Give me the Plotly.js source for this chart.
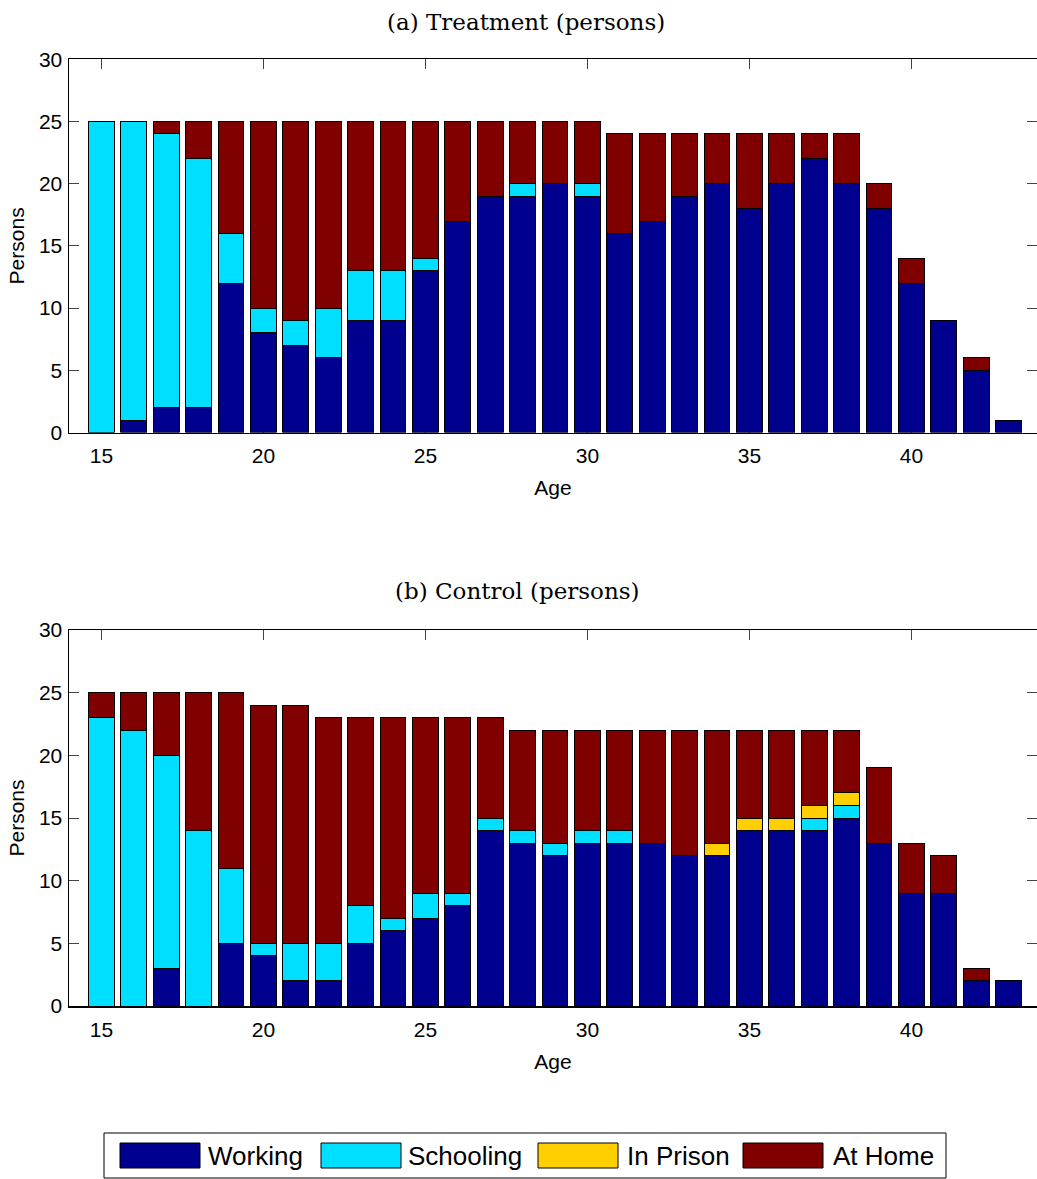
<!DOCTYPE html>
<html>
<head>
<meta charset="utf-8">
<script src="https://cdn.plot.ly/plotly-3.0.1.min.js"></script>
<style>html,body{margin:0;padding:0;background:#fff;}#chart{width:1037px;height:1179px;}</style>
</head>
<body>
<div id="chart"></div>
<script>
// ---- data ----
const ages = [15,16,17,18,19,20,21,22,23,24,25,26,27,28,29,30,31,32,33,34,35,36,37,38,39,40,41,42,43];
const xTickVals = [15,20,25,30,35,40];
const yTickVals = [0,5,10,15,20,25,30];

const seriesNames = ['Working','Schooling','In Prison','At Home'];

// (a) Treatment
const tWorking   = [0,1,2,2,12,8,7,6,9,9,13,17,19,19,20,19,16,17,19,20,18,20,22,20,18,12,9,5,1];
const tSchooling = [25,24,22,20,4,2,2,4,4,4,1,0,0,1,0,1,0,0,0,0,0,0,0,0,0,0,0,0,0];
const tPrison    = [0,0,0,0,0,0,0,0,0,0,0,0,0,0,0,0,0,0,0,0,0,0,0,0,0,0,0,0,0];
const tHome      = [0,0,1,3,9,15,16,15,12,12,11,8,6,5,5,5,8,7,5,4,6,4,2,4,2,2,0,1,0];

// (b) Control
const cWorking   = [0,0,3,0,5,4,2,2,5,6,7,8,14,13,12,13,13,13,12,12,14,14,14,15,13,9,9,2,2];
const cSchooling = [23,22,17,14,6,1,3,3,3,1,2,1,1,1,1,1,1,0,0,0,0,0,1,1,0,0,0,0,0];
const cPrison    = [0,0,0,0,0,0,0,0,0,0,0,0,0,0,0,0,0,0,0,1,1,1,1,1,0,0,0,0,0];
const cHome      = [2,3,5,11,14,19,19,18,15,16,14,14,8,8,9,8,8,9,10,9,7,7,6,5,6,4,3,1,0];

const panelTitles = ['(a) Treatment (persons)', '(b) Control (persons)'];
const xTitle = 'Age';
const yTitle = 'Persons';

// ---- styling ----
const colors = ['#00008F', '#00DFFF', '#FFCF00', '#800000'];
const W = 1037, H = 1179;
const px = v => v / W;
const py = v => 1 - v / H;
const sans = 'Liberation Sans, Arial, sans-serif';
const serif = 'DejaVu Serif, serif';

function mkTraces(vals, xa, ya) {
  return vals.map((v, i) => ({
    type: 'bar', x: ages, y: v, name: seriesNames[i], xaxis: xa, yaxis: ya,
    marker: {color: colors[i], line: {color: '#000', width: 1}},
    showlegend: false, hoverinfo: 'x+y+name'
  }));
}

const data = [
  ...mkTraces([tWorking, tSchooling, tPrison, tHome], 'x', 'y'),
  ...mkTraces([cWorking, cSchooling, cPrison, cHome], 'x2', 'y2')
];

function xAxis(dom, anchor) {
  return {
    domain: dom, anchor: anchor, range: [14, 14 + (W - 69) / 32.4],
    tickvals: xTickVals, ticks: 'inside', ticklen: 10, tickwidth: 1, tickcolor: '#444',
    showline: true, linecolor: '#000', linewidth: 1.5, mirror: 'ticks',
    showgrid: false, zeroline: false, layer: 'below traces',
    tickfont: {family: sans, size: 21, color: '#000'}, ticklabelstandoff: 4,
    title: {text: xTitle, font: {family: sans, size: 21, color: '#000'}, standoff: 14},
    automargin: false
  };
}
function yAxis(dom, anchor) {
  return {
    domain: dom, anchor: anchor, range: [0, 30],
    tickvals: yTickVals, ticks: 'inside', ticklen: 10, tickwidth: 1, tickcolor: '#444',
    showline: true, linecolor: '#000', linewidth: 1.5, mirror: 'ticks',
    showgrid: false, zeroline: false,
    tickfont: {family: sans, size: 21, color: '#000'}, ticklabelstandoff: 1,
    title: {text: yTitle, font: {family: sans, size: 21, color: '#000'}, standoff: 8},
    automargin: false
  };
}

const xDom = [69 / W, 1];
const layout = {
  width: W, height: H,
  margin: {l: 0, r: 0, t: 0, b: 0},
  paper_bgcolor: '#fff', plot_bgcolor: '#fff',
  barmode: 'stack', bargap: 0.2,
  showlegend: false,
  xaxis: xAxis(xDom, 'y'),
  yaxis: yAxis([py(432.5), py(59.3)], 'x'),
  xaxis2: xAxis(xDom, 'y2'),
  yaxis2: yAxis([py(1006), py(630)], 'x2'),
  annotations: [
    {text: panelTitles[0], xref: 'paper', yref: 'paper', x: px(525.5), y: py(22), xanchor: 'center', yanchor: 'middle', showarrow: false, font: {family: serif, size: 23, color: '#000'}},
    {text: panelTitles[1], xref: 'paper', yref: 'paper', x: px(517.5), y: py(591), xanchor: 'center', yanchor: 'middle', showarrow: false, font: {family: serif, size: 23, color: '#000'}}
  ],
  shapes: [
    {type: 'rect', xref: 'paper', yref: 'paper', x0: px(104), x1: px(946), y0: py(1178), y1: py(1133), line: {color: '#000', width: 1}, fillcolor: '#fff'}
  ]
};

// legend (drawn manually to match the wide swatches)
const swatchX = [120, 321, 538, 743];
const labelX = [206, 406, 625, 831];
seriesNames.forEach((n, i) => {
  layout.shapes.push({type: 'rect', xref: 'paper', yref: 'paper', x0: px(swatchX[i]), x1: px(swatchX[i] + 80), y0: py(1168), y1: py(1143), line: {color: '#000', width: 1}, fillcolor: colors[i]});
  layout.annotations.push({text: n, xref: 'paper', yref: 'paper', x: px(labelX[i]), y: py(1156), xanchor: 'left', yanchor: 'middle', showarrow: false, font: {family: sans, size: 26, color: '#000'}});
});

Plotly.newPlot('chart', data, layout, {staticPlot: true, displayModeBar: false});
</script>
</body>
</html>
